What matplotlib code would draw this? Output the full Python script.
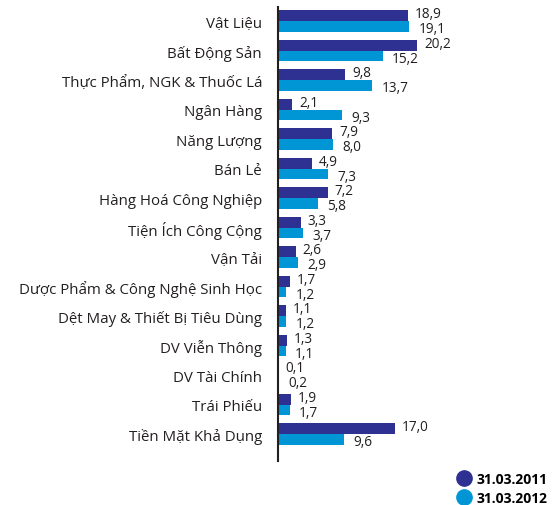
import matplotlib
matplotlib.use("Agg")
import matplotlib.pyplot as plt
from matplotlib.lines import Line2D
import numpy as np

categories = ["Vật Liệu", "Bất Động Sản", "Thực Phẩm, NGK & Thuốc Lá", "Ngân Hàng",
              "Năng Lượng", "Bán Lẻ", "Hàng Hoá Công Nghiệp", "Tiện Ích Công Cộng",
              "Vận Tải", "Dược Phẩm & Công Nghệ Sinh Học", "Dệt May & Thiết Bị Tiêu Dùng",
              "DV Viễn Thông", "DV Tài Chính", "Trái Phiếu", "Tiền Mặt Khả Dụng"]
v2011 = [18.9, 20.2, 9.8, 2.1, 7.9, 4.9, 7.2, 3.3, 2.6, 1.7, 1.1, 1.3, 0.1, 1.9, 17.0]
v2012 = [19.1, 15.2, 13.7, 9.3, 8.0, 7.3, 5.8, 3.7, 2.9, 1.2, 1.2, 1.1, 0.2, 1.7, 9.6]
series_names = ["31.03.2011", "31.03.2012"]
colors = ["#2E3192", "#0096D6"]

plt.rcParams['font.family'] = ['Open Sans', 'DejaVu Sans']

W, H = 558, 506
fig = plt.figure(figsize=(W/100, H/100), dpi=100)
left, right, top, bottom = 278, 553, 8, 462
ax = fig.add_axes([left/W, 1-bottom/H, (right-left)/W, (bottom-top)/H])

y = np.arange(len(categories))
h = 0.37
ax.barh(y - h/2, v2011, height=h, color=colors[0])
ax.barh(y + h/2, v2012, height=h, color=colors[1])

xmax = (right-left)/6.88
ax.set_xlim(0, xmax)
ax.set_ylim(14.915, -0.475)

for i in range(len(categories)):
    ax.annotate(f"{v2011[i]:.1f}".replace(".", ","), (v2011[i], y[i]-h/2-0.06),
                xytext=(5, 0), textcoords="offset points", va="center", ha="left",
                fontsize=9.8, color="#231F20")
    ax.annotate(f"{v2012[i]:.1f}".replace(".", ","), (v2012[i], y[i]+h/2+0.08),
                xytext=(6.5, 0), textcoords="offset points", va="center", ha="left",
                fontsize=9.8, color="#231F20")

ax.set_yticks(y)
ax.set_yticklabels(categories, fontsize=10.8, color="#231F20")
ax.tick_params(axis='y', length=0, pad=11.5)
ax.set_xticks([])
for s in ["top", "right", "bottom"]:
    ax.spines[s].set_visible(False)
ax.spines["left"].set_linewidth(1.5)
ax.spines["left"].set_color("#231F20")

handles = [Line2D([], [], marker='o', linestyle='none', markersize=11, color=c) for c in colors]
leg = fig.legend(handles, series_names, loc="upper left", bbox_to_anchor=(446/W, 1-466/H),
                 frameon=False, handletextpad=0.1, labelspacing=0.35, borderpad=0,
                 handlelength=1.6, prop={'weight': 'bold', 'size': 10})

fig.savefig("out.png", dpi=100)
